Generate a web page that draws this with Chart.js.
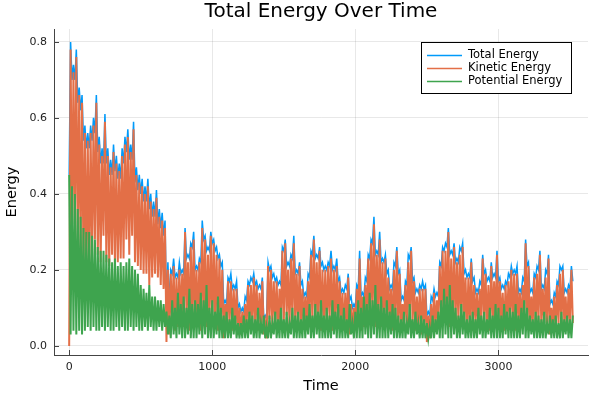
<!DOCTYPE html>
<html>
<head>
<meta charset="utf-8">
<script src="https://cdn.jsdelivr.net/npm/chart.js@4.4.1/dist/chart.umd.min.js"></script>
<style>
  html, body { margin: 0; padding: 0; background: #fff; }
  #wrap { width: 600px; height: 400px; }
</style>
</head>
<body>
<div id="wrap"><canvas id="energyChart"></canvas></div>
<script>
// ─── Data (one sample every 10 time units, t = 0 … 3520) ─────────────────────

const titleText  = 'Total Energy Over Time';
const xTitle     = 'Time';
const yTitle     = 'Energy';
const seriesNames = ['Total Energy', 'Kinetic Energy', 'Potential Energy'];
const xTicks = [0, 1000, 2000, 3000];
const yTicks = [0, 0.2, 0.4, 0.6, 0.8];

const totalEnergy = [
  0.45,0.80,0.70,0.74,0.70,0.78,0.64,0.68,0.62,0.66,
  0.54,0.58,0.52,0.56,0.52,0.58,0.54,0.60,0.56,0.66,
  0.51,0.55,0.48,0.52,0.48,0.61,0.48,0.52,0.45,0.49,
  0.45,0.53,0.46,0.50,0.44,0.48,0.44,0.52,0.48,0.55,
  0.51,0.57,0.49,0.53,0.49,0.59,0.43,0.47,0.41,0.45,
  0.40,0.44,0.38,0.42,0.38,0.44,0.36,0.40,0.34,0.38,
  0.34,0.41,0.32,0.36,0.31,0.35,0.29,0.33,0.10,0.22,
  0.11,0.20,0.19,0.23,0.18,0.19,0.18,0.22,0.19,0.20,
  0.19,0.31,0.23,0.24,0.23,0.27,0.26,0.30,0.20,0.21,
  0.20,0.23,0.22,0.33,0.28,0.29,0.25,0.26,0.25,0.30,
  0.27,0.28,0.25,0.26,0.23,0.24,0.21,0.22,0.11,0.12,
  0.11,0.18,0.17,0.19,0.15,0.16,0.15,0.17,0.10,0.11,
  0.09,0.10,0.09,0.13,0.12,0.17,0.16,0.18,0.17,0.19,
  0.16,0.17,0.15,0.16,0.15,0.18,0.07,0.08,0.07,0.22,
  0.20,0.21,0.18,0.19,0.17,0.18,0.16,0.17,0.16,0.26,
  0.25,0.28,0.21,0.22,0.21,0.24,0.23,0.29,0.19,0.20,
  0.19,0.22,0.16,0.17,0.13,0.14,0.13,0.19,0.18,0.25,
  0.24,0.29,0.23,0.24,0.23,0.26,0.21,0.22,0.20,0.21,
  0.20,0.22,0.21,0.25,0.20,0.21,0.20,0.23,0.17,0.18,
  0.14,0.15,0.14,0.16,0.15,0.19,0.12,0.13,0.10,0.11,
  0.10,0.16,0.15,0.25,0.13,0.14,0.13,0.18,0.17,0.24,
  0.23,0.28,0.27,0.34,0.24,0.25,0.24,0.30,0.22,0.23,
  0.22,0.24,0.19,0.20,0.15,0.16,0.15,0.22,0.21,0.26,
  0.19,0.20,0.12,0.13,0.12,0.17,0.16,0.24,0.23,0.26,
  0.17,0.18,0.14,0.15,0.14,0.16,0.15,0.17,0.15,0.16,
  0.08,0.09,0.08,0.13,0.12,0.15,0.13,0.14,0.13,0.22,
  0.21,0.26,0.25,0.27,0.26,0.31,0.24,0.25,0.24,0.27,
  0.22,0.23,0.22,0.26,0.25,0.27,0.19,0.20,0.18,0.19,
  0.18,0.23,0.17,0.18,0.14,0.15,0.14,0.17,0.16,0.24,
  0.19,0.20,0.17,0.18,0.17,0.22,0.18,0.19,0.18,0.25,
  0.17,0.18,0.15,0.16,0.15,0.17,0.16,0.19,0.18,0.21,
  0.19,0.20,0.19,0.21,0.14,0.15,0.14,0.18,0.17,0.28,
  0.21,0.22,0.14,0.15,0.14,0.19,0.18,0.21,0.20,0.25,
  0.15,0.16,0.15,0.20,0.19,0.24,0.11,0.12,0.11,0.14,
  0.13,0.17,0.16,0.21,0.20,0.21,0.14,0.15,0.14,0.16,
  0.15,0.21,0.17
];

const kineticEnergy = [
  0.00,0.78,0.28,0.72,0.32,0.76,0.26,0.66,0.26,0.64,
  0.21,0.56,0.20,0.54,0.20,0.56,0.23,0.58,0.28,0.64,
  0.24,0.53,0.22,0.50,0.29,0.59,0.22,0.50,0.21,0.47,
  0.24,0.51,0.21,0.48,0.22,0.46,0.23,0.50,0.23,0.53,
  0.28,0.55,0.24,0.51,0.29,0.57,0.22,0.45,0.21,0.43,
  0.20,0.42,0.19,0.40,0.19,0.42,0.16,0.38,0.18,0.36,
  0.19,0.39,0.18,0.34,0.16,0.33,0.15,0.31,0.01,0.20,
  0.03,0.19,0.06,0.21,0.04,0.18,0.05,0.20,0.07,0.19,
  0.05,0.30,0.08,0.22,0.04,0.26,0.06,0.28,0.05,0.20,
  0.06,0.22,0.04,0.31,0.07,0.28,0.05,0.24,0.06,0.29,
  0.05,0.27,0.07,0.24,0.04,0.23,0.06,0.20,0.02,0.11,
  0.05,0.17,0.06,0.17,0.04,0.15,0.05,0.15,0.03,0.10,
  0.03,0.09,0.04,0.11,0.05,0.16,0.06,0.16,0.05,0.18,
  0.06,0.16,0.04,0.14,0.05,0.17,0.03,0.06,0.02,0.21,
  0.07,0.20,0.05,0.17,0.06,0.17,0.04,0.15,0.05,0.25,
  0.06,0.27,0.08,0.20,0.05,0.23,0.07,0.27,0.06,0.19,
  0.05,0.21,0.04,0.15,0.06,0.13,0.05,0.17,0.07,0.24,
  0.06,0.28,0.05,0.22,0.07,0.25,0.04,0.20,0.06,0.20,
  0.05,0.21,0.07,0.23,0.04,0.20,0.06,0.21,0.05,0.17,
  0.06,0.14,0.04,0.14,0.05,0.18,0.03,0.11,0.04,0.10,
  0.05,0.15,0.06,0.23,0.04,0.13,0.05,0.16,0.07,0.23,
  0.06,0.27,0.08,0.32,0.05,0.24,0.07,0.28,0.05,0.22,
  0.06,0.23,0.05,0.18,0.07,0.15,0.04,0.20,0.06,0.25,
  0.05,0.19,0.04,0.11,0.06,0.16,0.05,0.22,0.07,0.25,
  0.06,0.17,0.04,0.13,0.05,0.15,0.03,0.15,0.05,0.15,
  0.01,0.08,0.02,0.11,0.04,0.14,0.05,0.12,0.06,0.21,
  0.07,0.25,0.06,0.25,0.08,0.30,0.05,0.23,0.07,0.26,
  0.06,0.22,0.07,0.24,0.05,0.26,0.06,0.18,0.04,0.18,
  0.05,0.22,0.04,0.16,0.06,0.14,0.05,0.15,0.06,0.23,
  0.06,0.19,0.05,0.16,0.04,0.21,0.06,0.17,0.05,0.24,
  0.05,0.17,0.06,0.14,0.04,0.16,0.05,0.17,0.07,0.20,
  0.06,0.19,0.04,0.19,0.05,0.14,0.06,0.16,0.07,0.27,
  0.05,0.21,0.04,0.13,0.06,0.18,0.05,0.19,0.06,0.24,
  0.05,0.15,0.06,0.18,0.04,0.23,0.03,0.10,0.05,0.13,
  0.04,0.16,0.06,0.19,0.05,0.20,0.06,0.13,0.04,0.15,
  0.06,0.20,0.06
];

const potentialEnergy = [
  0.45,0.03,0.42,0.04,0.40,0.03,0.36,0.04,0.34,0.03,
  0.31,0.04,0.30,0.05,0.30,0.04,0.29,0.05,0.28,0.04,
  0.26,0.04,0.25,0.05,0.25,0.04,0.24,0.05,0.23,0.04,
  0.22,0.04,0.23,0.05,0.21,0.04,0.22,0.05,0.21,0.04,
  0.22,0.04,0.23,0.05,0.21,0.04,0.20,0.05,0.19,0.04,
  0.16,0.04,0.15,0.05,0.14,0.04,0.16,0.05,0.13,0.04,
  0.13,0.04,0.12,0.05,0.12,0.04,0.11,0.05,0.09,0.03,
  0.08,0.02,0.12,0.03,0.10,0.02,0.14,0.03,0.11,0.02,
  0.13,0.02,0.10,0.03,0.15,0.02,0.11,0.02,0.12,0.02,
  0.11,0.03,0.14,0.02,0.12,0.03,0.16,0.02,0.10,0.02,
  0.12,0.02,0.09,0.03,0.13,0.02,0.10,0.02,0.08,0.02,
  0.09,0.02,0.07,0.02,0.10,0.03,0.08,0.02,0.06,0.02,
  0.06,0.02,0.08,0.02,0.07,0.02,0.09,0.03,0.08,0.02,
  0.07,0.02,0.10,0.02,0.06,0.03,0.08,0.02,0.05,0.02,
  0.08,0.02,0.06,0.03,0.09,0.02,0.07,0.02,0.10,0.02,
  0.07,0.02,0.09,0.02,0.06,0.03,0.10,0.02,0.08,0.02,
  0.09,0.02,0.07,0.02,0.10,0.02,0.08,0.03,0.11,0.02,
  0.08,0.02,0.11,0.03,0.09,0.02,0.12,0.02,0.08,0.02,
  0.10,0.02,0.08,0.02,0.12,0.03,0.09,0.02,0.11,0.02,
  0.08,0.02,0.10,0.02,0.07,0.02,0.11,0.03,0.06,0.02,
  0.09,0.02,0.12,0.02,0.10,0.02,0.13,0.03,0.11,0.02,
  0.14,0.02,0.12,0.03,0.16,0.02,0.11,0.02,0.13,0.02,
  0.10,0.02,0.12,0.02,0.09,0.03,0.11,0.02,0.10,0.02,
  0.08,0.02,0.07,0.02,0.09,0.02,0.06,0.03,0.11,0.02,
  0.07,0.02,0.09,0.03,0.06,0.02,0.08,0.02,0.07,0.02,
  0.06,0.02,0.05,0.02,0.08,0.02,0.07,0.03,0.09,0.02,
  0.12,0.02,0.15,0.03,0.13,0.02,0.16,0.02,0.12,0.03,
  0.10,0.02,0.08,0.02,0.11,0.03,0.09,0.02,0.07,0.02,
  0.08,0.02,0.09,0.02,0.07,0.02,0.10,0.03,0.08,0.02,
  0.09,0.02,0.07,0.03,0.10,0.02,0.08,0.02,0.11,0.02,
  0.10,0.02,0.08,0.02,0.11,0.03,0.09,0.02,0.10,0.02,
  0.09,0.02,0.11,0.02,0.08,0.02,0.10,0.03,0.12,0.02,
  0.10,0.02,0.08,0.03,0.07,0.02,0.09,0.02,0.08,0.02,
  0.07,0.02,0.09,0.02,0.06,0.03,0.08,0.02,0.07,0.02,
  0.08,0.02,0.06,0.02,0.09,0.02,0.07,0.03,0.08,0.02,
  0.07,0.02,0.08
];

const sampleStep = 10;
const times = totalEnergy.map((_, i) => i * sampleStep);

const colors = ['#009AFA', '#E36F47', '#3EA44E'];
const widths = [1.5, 2, 2];
const FONT = '"DejaVu Sans", sans-serif';

// ─── Decorations drawn like Plots.jl/GR (title, inward ticks, legend box) ────

const plotsDecor = {
  id: 'plotsDecor',
  afterDraw(chart) {
    const { ctx, chartArea: a, scales: { x, y } } = chart;
    ctx.save();

    // inward tick marks
    ctx.strokeStyle = '#444';
    ctx.lineWidth = 1;
    ctx.beginPath();
    xTicks.forEach(v => {
      const px = Math.round(x.getPixelForValue(v)) + 0.5;
      ctx.moveTo(px, a.bottom);
      ctx.lineTo(px, a.bottom - 5);
    });
    yTicks.forEach(v => {
      const py = Math.round(y.getPixelForValue(v)) + 0.5;
      ctx.moveTo(a.left, py);
      ctx.lineTo(a.left + 5, py);
    });
    ctx.stroke();

    // title
    ctx.fillStyle = '#000';
    ctx.textAlign = 'center';
    ctx.textBaseline = 'middle';
    ctx.font = '20px ' + FONT;
    ctx.fillText(titleText, (a.left + a.right) / 2, 12);

    // axis titles
    ctx.font = '14.5px ' + FONT;
    ctx.fillText(xTitle, (a.left + a.right) / 2, 386);
    ctx.save();
    ctx.translate(12, (a.top + a.bottom) / 2);
    ctx.rotate(-Math.PI / 2);
    ctx.fillText(yTitle, 0, 0);
    ctx.restore();

    // legend
    const bx = 421.5, by = 42.5, bw = 150, bh = 51;
    ctx.fillStyle = '#fff';
    ctx.fillRect(bx, by, bw, bh);
    ctx.strokeStyle = '#000';
    ctx.lineWidth = 1;
    ctx.strokeRect(bx, by, bw, bh);
    ctx.font = '11.5px ' + FONT;
    ctx.textAlign = 'left';
    seriesNames.forEach((name, i) => {
      const ly = 55.5 + i * 13;
      ctx.strokeStyle = colors[i];
      ctx.lineWidth = 1.5;
      ctx.beginPath();
      ctx.moveTo(427, ly);
      ctx.lineTo(462, ly);
      ctx.stroke();
      ctx.fillStyle = '#000';
      ctx.fillText(name, 468, ly);
    });

    ctx.restore();
  }
};

// ─── Chart ───────────────────────────────────────────────────────────────────

const seriesValues = [totalEnergy, kineticEnergy, potentialEnergy];

const datasets = seriesValues.map((vals, i) => ({
  label: seriesNames[i],
  data: vals.map((v, j) => ({ x: times[j], y: v })),
  borderColor: colors[i],
  backgroundColor: colors[i],
  borderWidth: widths[i],
  pointRadius: 0,
  tension: 0,
  fill: false,
  order: 3 - i   // green drawn last (on top), like the original
}));

const gridColor = 'rgba(0,0,0,0.09)';

new Chart(document.getElementById('energyChart').getContext('2d'), {
  type: 'line',
  data: { datasets },
  options: {
    responsive: true,
    maintainAspectRatio: false,
    animation: false,
    layout: { padding: { left: 0, top: 29, right: 12, bottom: 0 } },
    plugins: {
      legend: { display: false },
      title: { display: false },
      tooltip: { enabled: false }
    },
    scales: {
      x: {
        type: 'linear',
        min: -106,
        max: 3626,
        afterFit: s => { s.height = 45; },
        afterBuildTicks: s => { s.ticks = xTicks.map(v => ({ value: v })); },
        grid: { color: gridColor, lineWidth: 1, drawTicks: false },
        border: { display: true, color: '#444', width: 1 },
        ticks: { color: '#222', font: { size: 11, family: FONT }, padding: 6, maxRotation: 0,
                 callback: v => String(v) }
      },
      y: {
        type: 'linear',
        min: -0.024,
        max: 0.834,
        afterFit: s => { s.width = 54; },
        afterBuildTicks: s => { s.ticks = yTicks.map(v => ({ value: v })); },
        grid: { color: gridColor, lineWidth: 1, drawTicks: false },
        border: { display: true, color: '#444', width: 1 },
        ticks: { color: '#222', font: { size: 11, family: FONT }, padding: 7,
                 callback: v => v.toFixed(1) }
      }
    }
  },
  plugins: [plotsDecor]
});
</script>
</body>
</html>
